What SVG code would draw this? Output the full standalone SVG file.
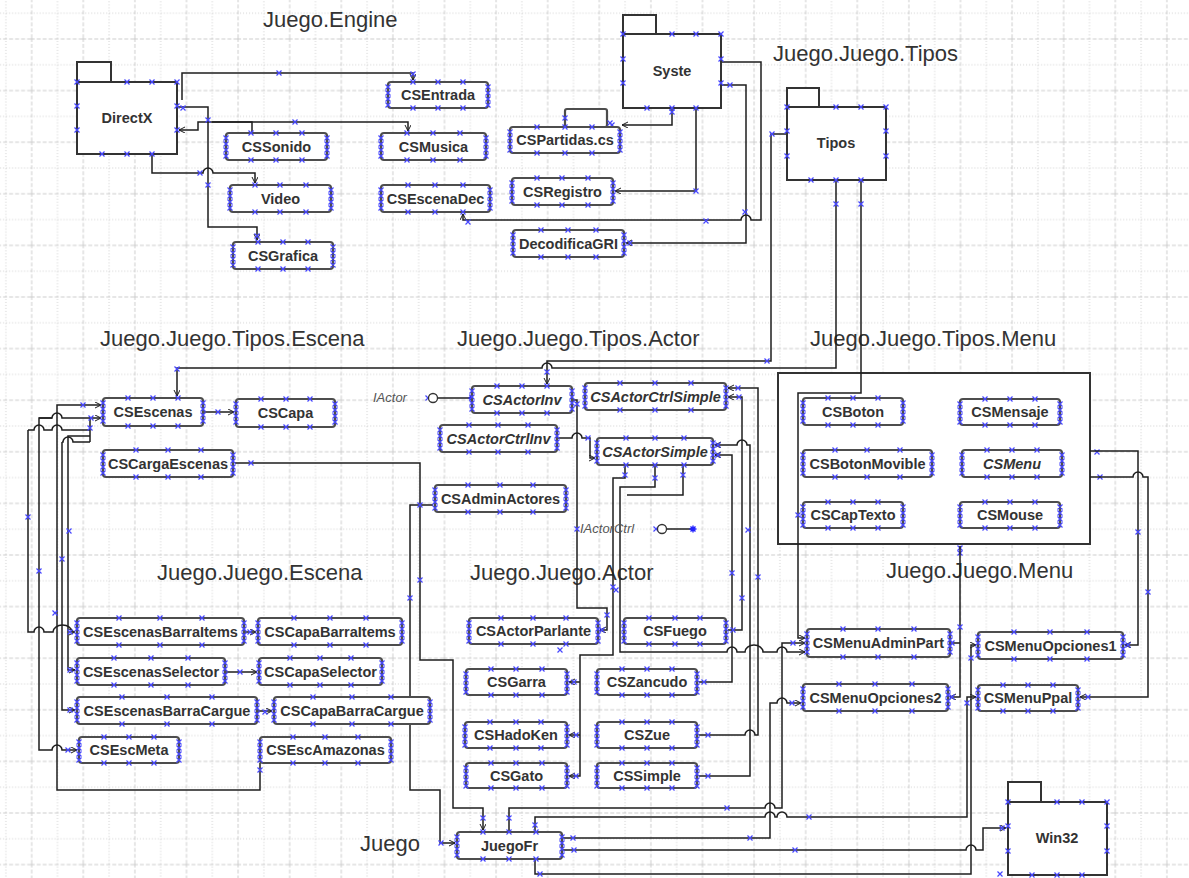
<svg xmlns="http://www.w3.org/2000/svg" xmlns:xlink="http://www.w3.org/1999/xlink" width="1189" height="878" viewBox="0 0 1189 878">
<style>
.b{fill:#fff;stroke:#4d4d4d;stroke-width:2.2}
.pk{fill:#fff;stroke:#333;stroke-width:2}
.l{font-family:"Liberation Sans",Arial,sans-serif;font-weight:bold;font-size:14.5px;fill:#333;text-anchor:middle}
.i{font-style:italic}
.p{font-family:"Liberation Sans",Arial,sans-serif;font-size:22px;fill:#333}
.s{font-family:"Liberation Sans",Arial,sans-serif;font-style:italic;font-size:13px;fill:#555}
.c path{fill:none;stroke:#1e1e1e;stroke-width:1.5}
.c .a{marker-end:url(#ar)}
</style>
<defs>
<pattern id="grid" patternUnits="userSpaceOnUse" x="30.7" y="38" width="51.6" height="51.6">
<path d="M1,0V51.6M0,1H51.6" stroke="#cdcdcd" stroke-width="1" stroke-dasharray="4,2" fill="none"/>
<path d="M26.8,0V51.6M0,26.8H51.6" stroke="#d0d0d0" stroke-width="1" stroke-dasharray="1,2" fill="none"/>
</pattern>
<path id="x" d="M-2.5,-2.5L2.5,2.5M-2.5,2.5L2.5,-2.5" stroke="#4646ff" stroke-width="1.2" fill="none"/>
<path id="col" d="M-2.5,2.5l5,5m0,-5l-5,5M-2.5,8.5l5,5m0,-5l-5,5M-2.5,14.5l5,5m0,-5l-5,5M-2.5,20.5l5,5m0,-5l-5,5" stroke="#4646ff" stroke-width="1.2" fill="none"/>
<path id="st" d="M-3.5,0H3.5M0,-3.5V3.5M-2.5,-2.5L2.5,2.5M-2.5,2.5L2.5,-2.5" stroke="#2020ff" stroke-width="1.4" fill="none"/>
<marker id="ar" markerUnits="userSpaceOnUse" markerWidth="8" markerHeight="8" refX="6" refY="3" orient="auto-start-reverse"><path d="M0,0L6,3L0,6" fill="none" stroke="#1e1e1e" stroke-width="1"/></marker>
</defs>
<rect width="1189" height="878" fill="#fff"/>
<rect width="1189" height="878" fill="url(#grid)"/>

<g id="labels">
<text class="p" x="263" y="27">Juego.Engine</text>
<text class="p" x="773" y="61">Juego.Juego.Tipos</text>
<text class="p" x="100" y="346">Juego.Juego.Tipos.Escena</text>
<text class="p" x="457" y="346">Juego.Juego.Tipos.Actor</text>
<text class="p" x="810" y="346">Juego.Juego.Tipos.Menu</text>
<text class="p" x="157" y="580">Juego.Juego.Escena</text>
<text class="p" x="470" y="580">Juego.Juego.Actor</text>
<text class="p" x="886" y="578">Juego.Juego.Menu</text>
<text class="p" x="360" y="851">Juego</text>
</g>

<g id="p_Menu"><rect class="pk" x="778" y="373" width="312" height="171"/>
<use href="#x" x="960" y="548"/><use href="#x" x="960" y="553"/><use href="#x" x="1097" y="452"/><use href="#x" x="1100" y="477"/></g>

<g id="connectors" class="c">
<path class="a" d="M182,100V73H413V80"/>
<path class="a" d="M177,107H208V227H257V240"/>
<path class="a" d="M252,133V122H198V130H179"/>
<path class="a" d="M212,122H408V131"/>
<path class="a" d="M152,154V173H203a5,5 0 0 1 10,0H255V183"/>
<path class="a" d="M722,62H761V220H751a5,5 0 0 0 -10,0H463V214"/>
<path class="a" d="M722,85H746V243H626"/>
<path class="a" d="M672,108V125H622"/>
<path class="a" d="M696,108V191H615"/>
<path class="a" d="M787,134H771V361H547V384"/>
<path class="a" d="M836,180V368H552a5,5 0 0 0 -10,0H177V396"/>
<path class="a" d="M861,180V393H798V638H805"/>
<path class="a" d="M1090,451H1138V645H1125"/>
<path class="a" d="M1090,477H1133a5,5 0 0 1 10,0H1148V697H1080"/>
<path class="a" d="M960,546V697H950"/>
<path d="M950,643H960"/>
<path class="a" d="M203,412H234"/>
<path class="a" d="M244,632H256"/>
<path class="a" d="M225,672H257"/>
<path class="a" d="M257,711H272"/>
<path class="a" d="M260,763V790H57V405H101"/>
<path class="a" d="M52,418H39V750H52a5,5 0 0 1 10,0H77"/>
<path d="M39,418H52a5,5 0 0 1 10,0H90"/>
<path class="a" d="M28,430V632H34a5,5 0 0 1 10,0H53a9.5,7 0 0 1 19,0H75"/>
<path d="M28,430H34a5,5 0 0 1 10,0H52a5,5 0 0 1 10,0H90"/>
<path class="a" d="M90,442V418H101"/>
<path class="a" d="M62,442V710H75"/>
<path d="M62,442H63a5,5 0 0 1 10,0H90"/>
<path class="a" d="M90,436H68V670H75"/>
<path d="M428,398H472"/>
<path class="a" d="M572,400H577V608H607V630H600"/>
<path class="a" d="M557,438H572a5,5 0 0 1 10,0H590V458H595"/>
<path class="a" d="M699,735H745a5,5 0 0 1 10,0H758V388H728"/>
<path class="a" d="M728,630H742V397H728"/>
<path class="a" d="M699,682H732V455H715"/>
<path class="a" d="M699,776H750V445H747a5,5 0 0 0 -10,0H715"/>
<path class="a" d="M625,465V478H613V655H580V776H569"/>
<path class="a" d="M580,682H569"/>
<path class="a" d="M580,735H569"/>
<path class="a" d="M655,465V487H620V652H727a5,5 0 0 1 10,0H745a9,7 0 0 1 18,0H777a5,5 0 0 1 10,0H805"/>
<path d="M683,465V495H627"/>
<path d="M656,529H693"/>
<path class="a" d="M235,463H420V660H453V808H483V830"/>
<path class="a" d="M433,505H410V790H440V843H455"/>
<path class="a" d="M509,832V808H765a5,5 0 0 1 10,0H782V643H805"/>
<path class="a" d="M535,832V817H765a5,5 0 0 1 10,0H777a5,5 0 0 1 10,0H967V697H976"/>
<path class="a" d="M562,838H770V703H777a5,5 0 0 1 10,0H801"/>
<path class="a" d="M562,850H966a5,5 0 0 1 10,0H983V828H1006"/>
<path class="a" d="M535,859V874H971V645H976"/>
</g>

<g id="cmarks">
<use href="#x" x="279" y="73"/><use href="#x" x="413" y="74"/><use href="#x" x="295" y="122"/><use href="#x" x="183" y="108"/><use href="#x" x="208" y="120"/><use href="#x" x="200" y="173"/><use href="#x" x="208" y="185"/><use href="#x" x="257" y="236"/>
<use href="#x" x="708" y="62"/><use href="#x" x="706" y="221"/><use href="#x" x="745" y="212"/><use href="#x" x="730" y="85"/><use href="#x" x="696" y="191"/><use href="#x" x="672" y="112"/><use href="#x" x="612" y="125"/><use href="#x" x="630" y="243"/><use href="#x" x="468" y="222"/>
<use href="#x" x="772" y="134"/><use href="#x" x="836" y="204"/><use href="#x" x="861" y="204"/><use href="#x" x="767" y="361"/><use href="#x" x="547" y="372"/><use href="#x" x="177" y="369"/>
<use href="#x" x="83" y="405"/><use href="#x" x="91" y="418"/><use href="#x" x="90" y="428"/><use href="#x" x="28" y="517"/><use href="#x" x="39" y="571"/><use href="#x" x="62" y="559"/><use href="#x" x="69" y="531"/><use href="#x" x="55" y="613"/><use href="#x" x="70" y="632"/><use href="#x" x="70" y="670"/><use href="#x" x="70" y="710"/><use href="#x" x="68" y="750"/><use href="#x" x="260" y="770"/><use href="#x" x="218" y="412"/><use href="#x" x="250" y="632"/><use href="#x" x="240" y="672"/><use href="#x" x="265" y="712"/>
<use href="#x" x="251" y="463"/><use href="#x" x="420" y="505"/><use href="#x" x="420" y="580"/><use href="#x" x="410" y="598"/><use href="#x" x="428" y="398"/><use href="#x" x="577" y="529"/><use href="#x" x="656" y="529"/>
<use href="#x" x="577" y="404"/><use href="#x" x="607" y="615"/><use href="#x" x="588" y="438"/><use href="#x" x="625" y="475"/><use href="#x" x="655" y="478"/><use href="#x" x="683" y="475"/><use href="#x" x="613" y="587"/><use href="#x" x="616" y="590"/><use href="#x" x="560" y="650"/>
<use href="#x" x="738" y="388"/><use href="#x" x="739" y="397"/><use href="#x" x="718" y="445"/><use href="#x" x="718" y="455"/><use href="#x" x="748" y="530"/><use href="#x" x="732" y="573"/><use href="#x" x="758" y="577"/><use href="#x" x="742" y="598"/>
<use href="#x" x="733" y="630"/><use href="#x" x="704" y="682"/><use href="#x" x="708" y="735"/><use href="#x" x="708" y="776"/><use href="#x" x="574" y="682"/><use href="#x" x="576" y="735"/><use href="#x" x="576" y="776"/><use href="#x" x="602" y="630"/>
<use href="#x" x="793" y="643"/><use href="#x" x="792" y="703"/><use href="#x" x="960" y="627"/><use href="#x" x="952" y="643"/><use href="#x" x="952" y="697"/><use href="#x" x="971" y="658"/><use href="#x" x="967" y="703"/><use href="#x" x="1128" y="645"/><use href="#x" x="1088" y="697"/><use href="#x" x="1138" y="532"/><use href="#x" x="1148" y="592"/>
<use href="#x" x="727" y="808"/><use href="#x" x="809" y="817"/><use href="#x" x="750" y="838"/><use href="#x" x="795" y="850"/><use href="#x" x="1002" y="828"/><use href="#x" x="1000" y="874"/><use href="#x" x="540" y="874"/><use href="#x" x="573" y="838"/><use href="#x" x="574" y="850"/><use href="#x" x="441" y="843"/><use href="#x" x="509" y="818"/><use href="#x" x="483" y="818"/><use href="#x" x="535" y="825"/>
</g>

<g id="p_DirectX"><rect class="pk" x="77" y="62" width="34" height="20"/><rect class="pk" x="77" y="82" width="100" height="72"/><text class="l" x="127" y="123">DirectX</text>
<use href="#x" x="77" y="82"/><use href="#x" x="127" y="82"/><use href="#x" x="152" y="82"/><use href="#x" x="177" y="82"/><use href="#x" x="77" y="106"/><use href="#x" x="77" y="130"/><use href="#x" x="177" y="106"/><use href="#x" x="177" y="130"/><use href="#x" x="102" y="154"/><use href="#x" x="127" y="154"/><use href="#x" x="152" y="154"/></g>
<g id="p_Syste"><rect class="pk" x="623" y="15" width="33" height="19"/><rect class="pk" x="623" y="34" width="98" height="74"/><text class="l" x="672" y="76">Syste</text>
<use href="#x" x="623" y="34"/><use href="#x" x="672" y="34"/><use href="#x" x="696" y="34"/><use href="#x" x="721" y="34"/><use href="#x" x="623" y="59"/><use href="#x" x="623" y="83"/><use href="#x" x="721" y="59"/><use href="#x" x="721" y="83"/><use href="#x" x="647" y="108"/><use href="#x" x="672" y="108"/><use href="#x" x="696" y="108"/></g>
<g id="p_Tipos"><rect class="pk" x="787" y="88" width="32" height="19"/><rect class="pk" x="787" y="107" width="99" height="73"/><text class="l" x="836" y="148">Tipos</text>
<use href="#x" x="787" y="107"/><use href="#x" x="836" y="107"/><use href="#x" x="861" y="107"/><use href="#x" x="886" y="107"/><use href="#x" x="787" y="131"/><use href="#x" x="787" y="156"/><use href="#x" x="886" y="131"/><use href="#x" x="886" y="156"/><use href="#x" x="811" y="180"/><use href="#x" x="836" y="180"/><use href="#x" x="861" y="180"/></g>
<g id="p_Win32"><rect class="pk" x="1008" y="782" width="33" height="20"/><rect class="pk" x="1008" y="802" width="99" height="73"/><text class="l" x="1057" y="843">Win32</text>
<use href="#x" x="1008" y="802"/><use href="#x" x="1057" y="802"/><use href="#x" x="1082" y="802"/><use href="#x" x="1107" y="802"/><use href="#x" x="1008" y="826"/><use href="#x" x="1008" y="851"/><use href="#x" x="1107" y="826"/><use href="#x" x="1107" y="851"/><use href="#x" x="1032" y="875"/><use href="#x" x="1057" y="875"/><use href="#x" x="1082" y="875"/></g>

<g id="iActor"><text class="s" x="373" y="402">IActor</text><circle cx="433" cy="398" r="4.5" fill="#fff" stroke="#333" stroke-width="1.3"/><use href="#st" x="472" y="398"/></g>
<g id="iActorCtrl"><text class="s" x="580" y="533">IActorCtrl</text><circle cx="662" cy="529" r="4.5" fill="#fff" stroke="#333" stroke-width="1.3"/><use href="#st" x="693" y="529"/></g>

<g id="n_CSEntrada" transform="translate(388,82)"><rect class="b" width="100" height="26" rx="3"/><text class="l" x="50" y="18">CSEntrada</text><use href="#col"/><use href="#col" x="100"/><use href="#x" x="25"/><use href="#x" x="50"/><use href="#x" x="75"/><use href="#x" x="25" y="26"/><use href="#x" x="50" y="26"/><use href="#x" x="75" y="26"/></g>
<g id="n_CSSonido" transform="translate(226,133)"><rect class="b" width="101" height="27" rx="3"/><text class="l" x="50.5" y="18.5">CSSonido</text><use href="#col"/><use href="#col" x="101"/><use href="#x" x="25"/><use href="#x" x="50"/><use href="#x" x="76"/><use href="#x" x="25" y="27"/><use href="#x" x="50" y="27"/><use href="#x" x="76" y="27"/></g>
<g id="n_CSMusica" transform="translate(381,133)"><rect class="b" width="105" height="27" rx="3"/><text class="l" x="52.5" y="18.5">CSMusica</text><use href="#col"/><use href="#col" x="105"/><use href="#x" x="26"/><use href="#x" x="52"/><use href="#x" x="79"/><use href="#x" x="26" y="27"/><use href="#x" x="52" y="27"/><use href="#x" x="79" y="27"/></g>
<g id="n_Video" transform="translate(230,185)"><rect class="b" width="101" height="27" rx="3"/><text class="l" x="50.5" y="18.5">Video</text><use href="#col"/><use href="#col" x="101"/><use href="#x" x="25"/><use href="#x" x="50"/><use href="#x" x="76"/><use href="#x" x="25" y="27"/><use href="#x" x="50" y="27"/><use href="#x" x="76" y="27"/></g>
<g id="n_CSEscenaDec" transform="translate(381,185)"><rect class="b" width="109" height="27" rx="3"/><text class="l" x="54.5" y="18.5">CSEscenaDec</text><use href="#col"/><use href="#col" x="109"/><use href="#x" x="27"/><use href="#x" x="54"/><use href="#x" x="82"/><use href="#x" x="27" y="27"/><use href="#x" x="54" y="27"/><use href="#x" x="82" y="27"/></g>
<g id="n_CSGrafica" transform="translate(233,242)"><rect class="b" width="100" height="27" rx="3"/><text class="l" x="50" y="18.5">CSGrafica</text><use href="#col"/><use href="#col" x="100"/><use href="#x" x="25"/><use href="#x" x="50"/><use href="#x" x="75"/><use href="#x" x="25" y="27"/><use href="#x" x="50" y="27"/><use href="#x" x="75" y="27"/></g>
<g id="n_CSPartidas" transform="translate(510,127)"><rect class="b" x="55" y="-18" width="42" height="18" rx="2"/><rect class="b" width="110" height="26" rx="3"/><text class="l" x="55" y="18">CSPartidas.cs</text><use href="#col"/><use href="#col" x="110"/><use href="#x" x="27"/><use href="#x" x="55"/><use href="#x" x="82"/><use href="#x" x="27" y="26"/><use href="#x" x="55" y="26"/><use href="#x" x="82" y="26"/><use href="#x" x="55" y="-9"/><use href="#x" x="100" y="-4"/></g>
<g id="n_CSRegistro" transform="translate(512,178)"><rect class="b" width="101" height="27" rx="3"/><text class="l" x="50.5" y="18.5">CSRegistro</text><use href="#col"/><use href="#col" x="101"/><use href="#x" x="25"/><use href="#x" x="50"/><use href="#x" x="76"/><use href="#x" x="25" y="27"/><use href="#x" x="50" y="27"/><use href="#x" x="76" y="27"/></g>
<g id="n_DecodificaGRI" transform="translate(513,230)"><rect class="b" width="111" height="27" rx="3"/><text class="l" x="55.5" y="18.5">DecodificaGRI</text><use href="#col"/><use href="#col" x="111"/><use href="#x" x="28"/><use href="#x" x="55"/><use href="#x" x="83"/><use href="#x" x="28" y="27"/><use href="#x" x="55" y="27"/><use href="#x" x="83" y="27"/></g>

<g id="n_CSEscenas" transform="translate(103,398)"><rect class="b" width="100" height="28" rx="3"/><text class="l" x="50" y="19">CSEscenas</text><use href="#col"/><use href="#col" x="100"/><use href="#x" x="25"/><use href="#x" x="50"/><use href="#x" x="75"/><use href="#x" x="25" y="28"/><use href="#x" x="50" y="28"/><use href="#x" x="75" y="28"/></g>
<g id="n_CSCapa" transform="translate(236,399)"><rect class="b" width="99" height="28" rx="3"/><text class="l" x="49.5" y="19">CSCapa</text><use href="#col"/><use href="#col" x="99"/><use href="#x" x="25"/><use href="#x" x="50"/><use href="#x" x="74"/><use href="#x" x="25" y="28"/><use href="#x" x="50" y="28"/><use href="#x" x="74" y="28"/></g>
<g id="n_CSCargaEscenas" transform="translate(103,450)"><rect class="b" width="130" height="27" rx="3"/><text class="l" x="65" y="18.5">CSCargaEscenas</text><use href="#col"/><use href="#col" x="130"/><use href="#x" x="33"/><use href="#x" x="65"/><use href="#x" x="98"/><use href="#x" x="33" y="27"/><use href="#x" x="65" y="27"/><use href="#x" x="98" y="27"/></g>

<g id="n_CSActorInv" transform="translate(472,386)"><rect class="b" width="100" height="27" rx="3"/><text class="l i" x="50" y="18.5">CSActorInv</text><use href="#col"/><use href="#col" x="100"/><use href="#x" x="25"/><use href="#x" x="50"/><use href="#x" x="75"/><use href="#x" x="25" y="27"/><use href="#x" x="50" y="27"/><use href="#x" x="75" y="27"/></g>
<g id="n_CSActorCtrlSimple" transform="translate(585,383)"><rect class="b" width="141" height="27" rx="3"/><text class="l i" x="70.5" y="18.5">CSActorCtrlSimple</text><use href="#col"/><use href="#col" x="141"/><use href="#x" x="35"/><use href="#x" x="70"/><use href="#x" x="106"/><use href="#x" x="35" y="27"/><use href="#x" x="70" y="27"/><use href="#x" x="106" y="27"/></g>
<g id="n_CSActorCtrlInv" transform="translate(440,425)"><rect class="b" width="117" height="27" rx="3"/><text class="l i" x="58.5" y="18.5">CSActorCtrlInv</text><use href="#col"/><use href="#col" x="117"/><use href="#x" x="29"/><use href="#x" x="58"/><use href="#x" x="88"/><use href="#x" x="29" y="27"/><use href="#x" x="58" y="27"/><use href="#x" x="88" y="27"/></g>
<g id="n_CSActorSimple" transform="translate(597,438)"><rect class="b" width="116" height="27" rx="3"/><text class="l i" x="58" y="18.5">CSActorSimple</text><use href="#col"/><use href="#col" x="116"/><use href="#x" x="29"/><use href="#x" x="58"/><use href="#x" x="87"/><use href="#x" x="29" y="27"/><use href="#x" x="58" y="27"/><use href="#x" x="87" y="27"/></g>
<g id="n_CSAdminActores" transform="translate(435,485)"><rect class="b" width="131" height="27" rx="3"/><text class="l" x="65.5" y="18.5">CSAdminActores</text><use href="#col"/><use href="#col" x="131"/><use href="#x" x="33"/><use href="#x" x="65"/><use href="#x" x="98"/><use href="#x" x="33" y="27"/><use href="#x" x="65" y="27"/><use href="#x" x="98" y="27"/></g>

<g id="n_CSBoton" transform="translate(803,398)"><rect class="b" width="100" height="27" rx="3"/><text class="l" x="50" y="18.5">CSBoton</text><use href="#col"/><use href="#col" x="100"/><use href="#x" x="25"/><use href="#x" x="50"/><use href="#x" x="75"/><use href="#x" x="25" y="27"/><use href="#x" x="50" y="27"/><use href="#x" x="75" y="27"/></g>
<g id="n_CSMensaje" transform="translate(960,399)"><rect class="b" width="100" height="26" rx="3"/><text class="l" x="50" y="18">CSMensaje</text><use href="#col"/><use href="#col" x="100"/><use href="#x" x="25"/><use href="#x" x="50"/><use href="#x" x="75"/><use href="#x" x="25" y="26"/><use href="#x" x="50" y="26"/><use href="#x" x="75" y="26"/></g>
<g id="n_CSBotonMovible" transform="translate(803,450)"><rect class="b" width="129" height="27" rx="3"/><text class="l" x="64.5" y="18.5">CSBotonMovible</text><use href="#col"/><use href="#col" x="129"/><use href="#x" x="32"/><use href="#x" x="64"/><use href="#x" x="97"/><use href="#x" x="32" y="27"/><use href="#x" x="64" y="27"/><use href="#x" x="97" y="27"/></g>
<g id="n_CSMenu" transform="translate(962,450)"><rect class="b" width="100" height="27" rx="3"/><text class="l i" x="50" y="18.5">CSMenu</text><use href="#col"/><use href="#col" x="100"/><use href="#x" x="25"/><use href="#x" x="50"/><use href="#x" x="75"/><use href="#x" x="25" y="27"/><use href="#x" x="50" y="27"/><use href="#x" x="75" y="27"/></g>
<g id="n_CSCapTexto" transform="translate(803,502)"><rect class="b" width="100" height="26" rx="3"/><text class="l" x="50" y="18">CSCapTexto</text><use href="#col"/><use href="#col" x="100"/><use href="#x" x="25"/><use href="#x" x="50"/><use href="#x" x="75"/><use href="#x" x="25" y="26"/><use href="#x" x="50" y="26"/><use href="#x" x="75" y="26"/><use href="#x" x="-5" y="13"/></g>
<g id="n_CSMouse" transform="translate(960,502)"><rect class="b" width="100" height="26" rx="3"/><text class="l" x="50" y="18">CSMouse</text><use href="#col"/><use href="#col" x="100"/><use href="#x" x="25"/><use href="#x" x="50"/><use href="#x" x="75"/><use href="#x" x="25" y="26"/><use href="#x" x="50" y="26"/><use href="#x" x="75" y="26"/></g>

<g id="n_CSEscenasBarraItems" transform="translate(77,618)"><rect class="b" width="167" height="27" rx="3"/><text class="l" x="83.5" y="18.5">CSEscenasBarraItems</text><use href="#col"/><use href="#col" x="167"/><use href="#x" x="42"/><use href="#x" x="83"/><use href="#x" x="125"/><use href="#x" x="42" y="27"/><use href="#x" x="83" y="27"/><use href="#x" x="125" y="27"/></g>
<g id="n_CSCapaBarraItems" transform="translate(258,618)"><rect class="b" width="144" height="27" rx="3"/><text class="l" x="72" y="18.5">CSCapaBarraItems</text><use href="#col"/><use href="#col" x="144"/><use href="#x" x="36"/><use href="#x" x="72"/><use href="#x" x="108"/><use href="#x" x="36" y="27"/><use href="#x" x="72" y="27"/><use href="#x" x="108" y="27"/></g>
<g id="n_CSEscenasSelector" transform="translate(77,658)"><rect class="b" width="148" height="27" rx="3"/><text class="l" x="74" y="18.5">CSEscenasSelector</text><use href="#col"/><use href="#col" x="148"/><use href="#x" x="37"/><use href="#x" x="74"/><use href="#x" x="111"/><use href="#x" x="37" y="27"/><use href="#x" x="74" y="27"/><use href="#x" x="111" y="27"/></g>
<g id="n_CSCapaSelector" transform="translate(259,658)"><rect class="b" width="123" height="27" rx="3"/><text class="l" x="61.5" y="18.5">CSCapaSelector</text><use href="#col"/><use href="#col" x="123"/><use href="#x" x="31"/><use href="#x" x="61"/><use href="#x" x="92"/><use href="#x" x="31" y="27"/><use href="#x" x="61" y="27"/><use href="#x" x="92" y="27"/></g>
<g id="n_CSEscenasBarraCargue" transform="translate(77,697)"><rect class="b" width="180" height="27" rx="3"/><text class="l" x="90" y="18.5">CSEscenasBarraCargue</text><use href="#col"/><use href="#col" x="180"/><use href="#x" x="45"/><use href="#x" x="90"/><use href="#x" x="135"/><use href="#x" x="45" y="27"/><use href="#x" x="90" y="27"/><use href="#x" x="135" y="27"/></g>
<g id="n_CSCapaBarraCargue" transform="translate(274,697)"><rect class="b" width="156" height="27" rx="3"/><text class="l" x="78" y="18.5">CSCapaBarraCargue</text><use href="#col"/><use href="#col" x="156"/><use href="#x" x="39"/><use href="#x" x="78"/><use href="#x" x="117"/><use href="#x" x="39" y="27"/><use href="#x" x="78" y="27"/><use href="#x" x="117" y="27"/></g>
<g id="n_CSEscMeta" transform="translate(79,737)"><rect class="b" width="100" height="26" rx="3"/><text class="l" x="50" y="18">CSEscMeta</text><use href="#col"/><use href="#col" x="100"/><use href="#x" x="25"/><use href="#x" x="50"/><use href="#x" x="75"/><use href="#x" x="25" y="26"/><use href="#x" x="50" y="26"/><use href="#x" x="75" y="26"/></g>
<g id="n_CSEscAmazonas" transform="translate(260,737)"><rect class="b" width="131" height="26" rx="3"/><text class="l" x="65.5" y="18">CSEscAmazonas</text><use href="#col"/><use href="#col" x="131"/><use href="#x" x="33"/><use href="#x" x="65"/><use href="#x" x="98"/><use href="#x" x="33" y="26"/><use href="#x" x="65" y="26"/><use href="#x" x="98" y="26"/></g>

<g id="n_CSActorParlante" transform="translate(469,618)"><rect class="b" width="129" height="26" rx="3"/><text class="l" x="64.5" y="18">CSActorParlante</text><use href="#col"/><use href="#col" x="129"/><use href="#x" x="32"/><use href="#x" x="64"/><use href="#x" x="97"/><use href="#x" x="32" y="26"/><use href="#x" x="64" y="26"/><use href="#x" x="97" y="26"/></g>
<g id="n_CSFuego" transform="translate(624,618)"><rect class="b" width="102" height="26" rx="3"/><text class="l" x="51" y="18">CSFuego</text><use href="#col"/><use href="#col" x="102"/><use href="#x" x="25"/><use href="#x" x="51"/><use href="#x" x="76"/><use href="#x" x="25" y="26"/><use href="#x" x="51" y="26"/><use href="#x" x="76" y="26"/></g>
<g id="n_CSGarra" transform="translate(466,669)"><rect class="b" width="101" height="26" rx="3"/><text class="l" x="50.5" y="18">CSGarra</text><use href="#col"/><use href="#col" x="101"/><use href="#x" x="25"/><use href="#x" x="50"/><use href="#x" x="76"/><use href="#x" x="25" y="26"/><use href="#x" x="50" y="26"/><use href="#x" x="76" y="26"/></g>
<g id="n_CSZancudo" transform="translate(597,669)"><rect class="b" width="100" height="26" rx="3"/><text class="l" x="50" y="18">CSZancudo</text><use href="#col"/><use href="#col" x="100"/><use href="#x" x="25"/><use href="#x" x="50"/><use href="#x" x="75"/><use href="#x" x="25" y="26"/><use href="#x" x="50" y="26"/><use href="#x" x="75" y="26"/></g>
<g id="n_CSHadoKen" transform="translate(465,722)"><rect class="b" width="102" height="26" rx="3"/><text class="l" x="51" y="18">CSHadoKen</text><use href="#col"/><use href="#col" x="102"/><use href="#x" x="25"/><use href="#x" x="51"/><use href="#x" x="76"/><use href="#x" x="25" y="26"/><use href="#x" x="51" y="26"/><use href="#x" x="76" y="26"/></g>
<g id="n_CSZue" transform="translate(597,722)"><rect class="b" width="100" height="26" rx="3"/><text class="l" x="50" y="18">CSZue</text><use href="#col"/><use href="#col" x="100"/><use href="#x" x="25"/><use href="#x" x="50"/><use href="#x" x="75"/><use href="#x" x="25" y="26"/><use href="#x" x="50" y="26"/><use href="#x" x="75" y="26"/></g>
<g id="n_CSGato" transform="translate(466,763)"><rect class="b" width="101" height="25" rx="3"/><text class="l" x="50.5" y="17.5">CSGato</text><use href="#col"/><use href="#col" x="101"/><use href="#x" x="25"/><use href="#x" x="50"/><use href="#x" x="76"/><use href="#x" x="25" y="25"/><use href="#x" x="50" y="25"/><use href="#x" x="76" y="25"/></g>
<g id="n_CSSimple" transform="translate(597,763)"><rect class="b" width="100" height="25" rx="3"/><text class="l" x="50" y="17.5">CSSimple</text><use href="#col"/><use href="#col" x="100"/><use href="#x" x="25"/><use href="#x" x="50"/><use href="#x" x="75"/><use href="#x" x="25" y="25"/><use href="#x" x="50" y="25"/><use href="#x" x="75" y="25"/></g>

<g id="n_CSMenuAdminPart" transform="translate(807,629)"><rect class="b" width="143" height="28" rx="3"/><text class="l" x="71.5" y="19">CSMenuAdminPart</text><use href="#col"/><use href="#col" x="143"/><use href="#x" x="36"/><use href="#x" x="71"/><use href="#x" x="107"/><use href="#x" x="36" y="28"/><use href="#x" x="71" y="28"/><use href="#x" x="107" y="28"/></g>
<g id="n_CSMenuOpciones1" transform="translate(978,632)"><rect class="b" width="145" height="27" rx="3"/><text class="l" x="72.5" y="18.5">CSMenuOpciones1</text><use href="#col"/><use href="#col" x="145"/><use href="#x" x="36"/><use href="#x" x="72"/><use href="#x" x="109"/><use href="#x" x="36" y="27"/><use href="#x" x="72" y="27"/><use href="#x" x="109" y="27"/></g>
<g id="n_CSMenuPpal" transform="translate(978,685)"><rect class="b" width="100" height="26" rx="3"/><text class="l" x="50" y="18">CSMenuPpal</text><use href="#col"/><use href="#col" x="100"/><use href="#x" x="25"/><use href="#x" x="50"/><use href="#x" x="75"/><use href="#x" x="25" y="26"/><use href="#x" x="50" y="26"/><use href="#x" x="75" y="26"/></g>
<g id="n_CSMenuOpciones2" transform="translate(803,684)"><rect class="b" width="145" height="27" rx="3"/><text class="l" x="72.5" y="18.5">CSMenuOpciones2</text><use href="#col"/><use href="#col" x="145"/><use href="#x" x="36"/><use href="#x" x="72"/><use href="#x" x="109"/><use href="#x" x="36" y="27"/><use href="#x" x="72" y="27"/><use href="#x" x="109" y="27"/></g>
<g id="n_JuegoFr" transform="translate(457,832)"><rect class="b" width="105" height="27" rx="3"/><text class="l" x="52.5" y="18.5">JuegoFr</text><use href="#col"/><use href="#col" x="105"/><use href="#x" x="26"/><use href="#x" x="52"/><use href="#x" x="79"/><use href="#x" x="26" y="27"/><use href="#x" x="52" y="27"/><use href="#x" x="79" y="27"/></g>
</svg>
